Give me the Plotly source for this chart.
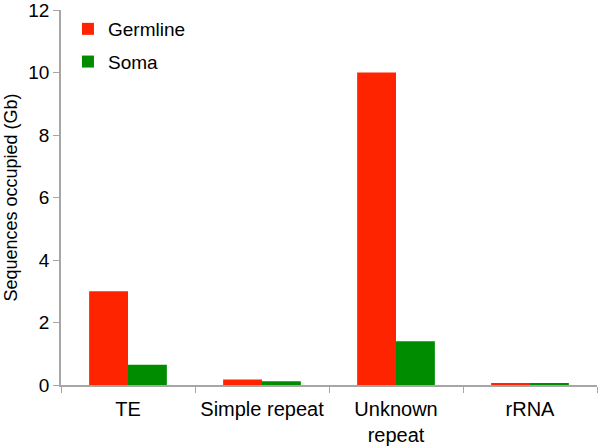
import plotly.graph_objects as go

categories = ["TE", "Simple repeat", "Unknown<br>repeat", "rRNA"]
germline = [3.0, 0.18, 10.0, 0.06]
soma = [0.65, 0.12, 1.4, 0.05]
y_ticks = [0, 2, 4, 6, 8, 10, 12]

fig = go.Figure()
fig.add_trace(go.Bar(x=categories, y=germline, name="Germline",
                     marker=dict(color="#FF2400", line=dict(width=0)),
                     legendgroup="g"))
fig.add_trace(go.Bar(x=categories, y=soma, name="Soma",
                     marker=dict(color="#008C00", line=dict(width=0)),
                     legendgroup="s"))

font = "Liberation Sans, Arial, sans-serif"
fig.update_layout(
    width=600, height=447,
    margin=dict(l=61, r=3, t=10, b=62),
    paper_bgcolor="white", plot_bgcolor="white",
    barmode="group", bargap=0.42, bargroupgap=0,
    font=dict(family=font, size=19, color="black"),
    showlegend=True,
    legend=dict(x=0.013, y=1.0, xanchor="left", yanchor="top",
                font=dict(size=19), tracegroupgap=5,
                bgcolor="rgba(0,0,0,0)", itemwidth=30),
    xaxis=dict(showline=True, linecolor="#a6a6a6", linewidth=1.5,
               ticks="outside", tickson="boundaries", ticklen=6,
               tickcolor="#a6a6a6", showgrid=False, tickfont=dict(size=20),
               automargin=False, ticklabelstandoff=5,
               ticklabeloverflow="allow"),
    yaxis=dict(range=[0, 12], tickvals=y_ticks, showline=True,
               linecolor="#a6a6a6", linewidth=1.5, ticks="outside",
               ticklen=6, tickcolor="#a6a6a6", showgrid=False,
               zeroline=False, tickfont=dict(size=19), automargin=False,
               ticklabeloverflow="allow",
               title=dict(text="Sequences occupied (Gb)", font=dict(size=18), standoff=6)),
)
fig.write_html("out.html", config={"displayModeBar": False},
               post_script="document.body.style.margin='0';document.body.style.padding='0';")
